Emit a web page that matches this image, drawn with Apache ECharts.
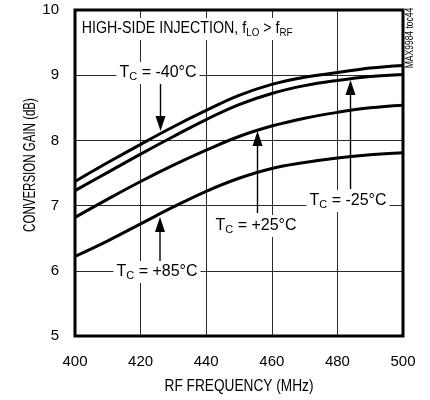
<!DOCTYPE html>
<html><head><meta charset="utf-8">
<script src="https://cdn.jsdelivr.net/npm/echarts@6/dist/echarts.min.js"></script>
<style>html,body{margin:0;padding:0;background:#fff}#c{width:430px;height:400px}</style>
</head><body><div id="c"></div>
<script>
const freq = [400, 410, 420, 430, 440, 450, 460, 470, 480, 490, 500];
const gainM40 = [7.37, 7.66, 7.94, 8.21, 8.46, 8.69, 8.86, 8.97, 9.04, 9.11, 9.15];
const gainM25 = [7.23, 7.51, 7.79, 8.06, 8.32, 8.55, 8.72, 8.84, 8.92, 8.98, 9.01];
const gainP25 = [6.82, 7.10, 7.37, 7.62, 7.85, 8.06, 8.22, 8.34, 8.43, 8.50, 8.54];
const gainP85 = [6.22, 6.46, 6.72, 6.98, 7.22, 7.42, 7.57, 7.66, 7.73, 7.78, 7.81];
const xTicks = [400, 420, 440, 460, 480, 500];
const yTicks = [5, 6, 7, 8, 9, 10];
const xTitle = 'RF FREQUENCY (MHz)';
const yTitle = 'CONVERSION GAIN (dB)';

const FONT = "'Liberation Sans',Arial,sans-serif";
const chart = echarts.init(document.getElementById('c'), null, {renderer: 'canvas'});
const pairs = arr => freq.map((f, i) => [f, arr[i]]);
const lineSeries = arr => ({
  type: 'line', data: pairs(arr), smooth: 0.4, symbol: 'none', z: 2,
  lineStyle: {color: '#000', width: 3}
});

const rich = {
  n: {fontFamily: FONT, fontSize: 16, color: '#000', lineHeight: 20},
  s: {fontFamily: FONT, fontSize: 11, color: '#000', lineHeight: 20, padding: [7, 0, 0, 0]}
};
function label(text, x, y, align, sx) {
  return {type: 'text', z: 1, x: x, y: y, scaleX: sx || 1,
    style: {text: text, rich: rich, align: align || 'center', verticalAlign: 'middle',
      backgroundColor: '#fff', padding: [1, 3, 1, 3], fill: '#000', font: '16px ' + FONT}};
}
function arrow(x, y0, y1) {
  const dir = y1 > y0 ? 1 : -1;
  const hh = 15, hw = 5;
  return [
    {type: 'line', z: 3, shape: {x1: x, y1: y0, x2: x, y2: y1 - dir * hh}, style: {stroke: '#000', lineWidth: 1.4}},
    {type: 'polygon', z: 3, shape: {points: [[x - hw, y1 - dir * hh], [x + hw, y1 - dir * hh], [x, y1]]}, style: {fill: '#000'}}
  ];
}

chart.setOption({
  animation: false,
  backgroundColor: '#fff',
  grid: {left: 75, right: 27, top: 10, bottom: 64, show: true, borderColor: '#000', borderWidth: 3, backgroundColor: 'transparent', z: 4},
  xAxis: {
    type: 'value', min: 400, max: 500, interval: 20,
    axisLine: {show: false}, axisTick: {show: false},
    axisLabel: {fontFamily: FONT, fontSize: 15, color: '#000', margin: 18,
      formatter: v => xTicks.includes(v) ? String(v) : ''},
    splitLine: {show: true, lineStyle: {color: '#2a2a2a', width: 1}}
  },
  yAxis: {
    type: 'value', min: 5, max: 10, interval: 1,
    axisLine: {show: false}, axisTick: {show: false},
    axisLabel: {fontFamily: FONT, fontSize: 15, color: '#000', margin: 16,
      formatter: v => yTicks.includes(v) ? String(v) : ''},
    splitLine: {show: true, lineStyle: {color: '#2a2a2a', width: 1}}
  },
  series: [lineSeries(gainM40), lineSeries(gainM25), lineSeries(gainP25), lineSeries(gainP85)],
  graphic: [].concat(
    [label('HIGH-SIDE INJECTION, f{s|LO} > f{s|RF}', 79, 29, 'left', 0.89)],
    [label('T{s|C} = -40°C', 158, 73)], arrow(160.5, 84, 131),
    [label('T{s|C} = -25°C', 348, 201)], arrow(350.5, 189, 80),
    [label('T{s|C} = +25°C', 256, 226)], arrow(257.5, 213, 131),
    [label('T{s|C} = +85°C', 157, 272)], arrow(160, 261, 217),
    [{type: 'text', z: 5, x: 239, y: 387, scaleX: 0.855,
      style: {text: xTitle, font: '16px ' + FONT, fill: '#000', align: 'center', verticalAlign: 'middle'}}],
    [{type: 'text', z: 5, x: 31, y: 165, rotation: Math.PI / 2, scaleX: 0.72,
      style: {text: yTitle, font: '16px ' + FONT, fill: '#000', align: 'center', verticalAlign: 'middle'}}],
    [{type: 'text', z: 5, x: 410, y: 38, rotation: Math.PI / 2, scaleX: 0.85,
      style: {text: 'MAX9984 toc44', font: '10px ' + FONT, fill: '#000', align: 'center', verticalAlign: 'middle'}}]
  )
});
</script></body></html>
